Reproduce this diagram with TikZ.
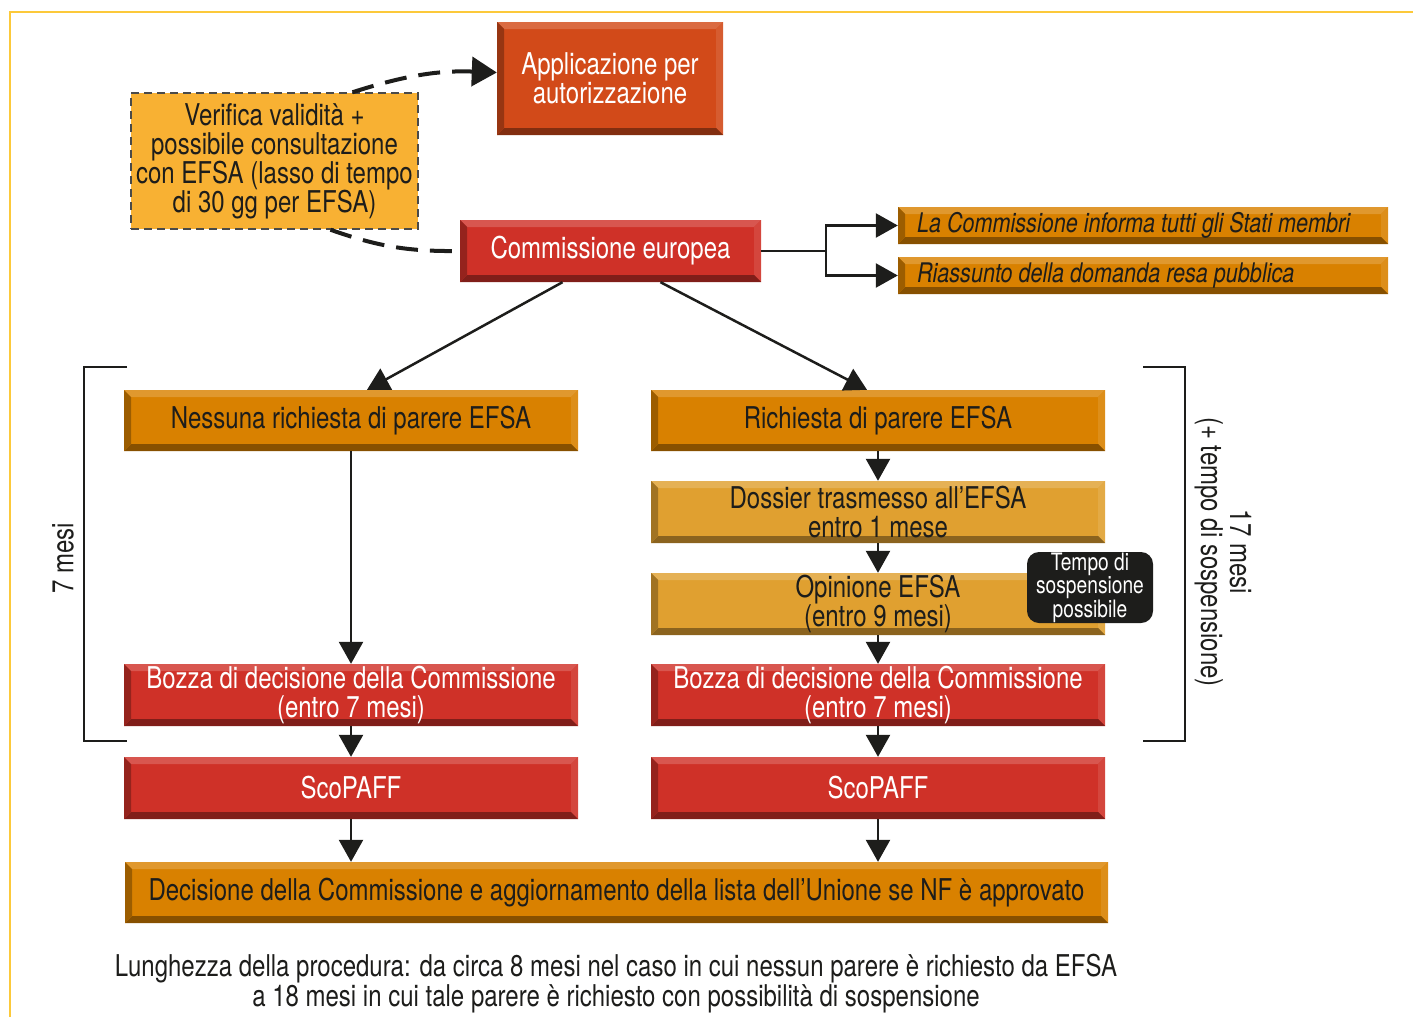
\documentclass[tikz,border=0pt]{standalone}
\usepackage{fontspec}
\setmainfont{TeX Gyre Heros}[FakeStretch=0.8]
\usetikzlibrary{arrows.meta}

\definecolor{ink}{HTML}{1D1D1B}
\definecolor{applred}{HTML}{D24A19}
\definecolor{boxred}{HTML}{CF3128}
\definecolor{boxorange}{HTML}{D98100}
\definecolor{boxlight}{HTML}{E0A030}
\definecolor{verifyellow}{HTML}{F8B133}
\definecolor{frameyellow}{HTML}{FCC93A}

\newcommand{\boxfont}{\fontsize{30}{28.5}\selectfont}
\newcommand{\tallfont}{\fontsize{30}{29}\selectfont}
\newcommand{\sidefont}{\fontsize{27}{28}\itshape\selectfont}
\newcommand{\tempofont}{\fontsize{24}{21.5}\selectfont}
\newcommand{\capfont}{\fontsize{30}{30}\selectfont}

% bevelled frame drawn inside a filled node
\newcommand{\bevel}[1]{%
  \coordinate (bsw) at (path picture bounding box.south west);
  \coordinate (bse) at (path picture bounding box.south east);
  \coordinate (bnw) at (path picture bounding box.north west);
  \coordinate (bne) at (path picture bounding box.north east);
  \fill[#1!82!white] (bnw) -- (bne) -- ([shift={(-7pt,-7pt)}]bne) -- ([shift={(7pt,-7pt)}]bnw) -- cycle;
  \fill[#1!90!white] (bne) -- (bse) -- ([shift={(-7pt,7pt)}]bse) -- ([shift={(-7pt,-7pt)}]bne) -- cycle;
  \fill[#1!62!black] (bse) -- (bsw) -- ([shift={(7pt,7pt)}]bsw) -- ([shift={(-7pt,7pt)}]bse) -- cycle;
  \fill[#1!72!black] (bsw) -- (bnw) -- ([shift={(7pt,-7pt)}]bnw) -- ([shift={(7pt,7pt)}]bsw) -- cycle;
}

\tikzset{
  bevelbox/.style={fill=#1, inner sep=0pt, align=center, path picture={\bevel{#1}}},
  redbox/.style={bevelbox=boxred, text=white, font=\boxfont, minimum width=454pt, minimum height=62pt},
  orangebox/.style={bevelbox=boxorange, text=ink, font=\boxfont, minimum width=454pt, minimum height=61pt},
  lightbox/.style={bevelbox=boxlight, text=ink, font=\boxfont, minimum width=454pt, minimum height=62pt},
  sidebox/.style={bevelbox=boxorange, text=ink, font=\sidefont, text width=452pt, align=flush left, inner xsep=19pt, minimum height=37pt},
  arr/.style={draw=ink, line width=2.5pt, -{Triangle[length=22pt,width=24pt]}},
  dashline/.style={draw=ink, line width=4pt, dash pattern=on 22pt off 12pt},
  bracket/.style={draw=ink, line width=2pt},
}

\begin{document}
\begin{tikzpicture}[x=1pt,y=-1pt]
\useasboundingbox (0,0) rectangle (1413,1017);
\draw[frameyellow, line width=2pt] (10,1017) -- (10,12) -- (1413,12);

% top part
\node[bevelbox=applred, text=white, font=\tallfont, minimum width=226pt, minimum height=113pt] (appl) at (610,78.5) {Applicazione per\\autorizzazione};
\node[fill=verifyellow, draw=ink!80, line width=1.5pt, dash pattern=on 8pt off 5pt, text=ink, font=\tallfont, align=center, inner sep=0pt, minimum width=287pt, minimum height=136pt] (verif) at (274.5,161) {Verifica validità +\\possibile consultazione\\con EFSA (lasso di tempo\\di 30 gg per EFSA)};
\node[redbox, minimum width=301pt] (comm) at (610.5,251) {Commissione europea};
\node[sidebox] (inform) at (1143,225.5) {La Commissione informa tutti gli Stati membri};
\node[sidebox] (summary) at (1143,275.5) {Riassunto della domanda resa pubblica};

\draw[dashline, -{Triangle[length=25pt,width=29pt]}] ([xshift=78]verif.north) to[bend left=10] ([yshift=6]appl.west);
\draw[dashline] ([xshift=56]verif.south) to[bend right=10] (comm.west);

\coordinate (fork) at ([xshift=65]comm.east);
\draw[draw=ink, line width=2.5pt] (comm.east) -- (fork);
\draw[arr] (fork) |- (inform.west);
\draw[arr] (fork) |- (summary.west);

% two branches
\node[orangebox] (noreq) at (351,420.5) {Nessuna richiesta di parere EFSA};
\node[orangebox] (req) at (878,420.5) {Richiesta di parere EFSA};
\node[lightbox] (dossier) at (878,512) {Dossier trasmesso all’EFSA\\entro 1 mese};
\node[lightbox] (opinion) at (878,604) {Opinione EFSA\\(entro 9 mesi)};
\node[fill=ink, text=white, rounded corners=12pt, font=\tempofont, align=center, inner sep=0pt, minimum width=126pt, minimum height=71pt] (susp) at (1090,587.5) {Tempo di\\sospensione\\possibile};
\node[redbox] (draftL) at (351,695) {Bozza di decisione della Commissione\\(entro 7 mesi)};
\node[redbox] (draftR) at (878,695) {Bozza di decisione della Commissione\\(entro 7 mesi)};
\node[redbox] (scoL) at (351,788) {ScoPAFF};
\node[redbox] (scoR) at (878,788) {ScoPAFF};
\node[orangebox, minimum width=983pt] (decision) at (616.5,892.5) {Decisione della Commissione e aggiornamento della lista dell’Unione se NF è approvato};

\draw[arr] ([xshift=-48]comm.south) -- ([xshift=16]noreq.north);
\draw[arr] ([xshift=50]comm.south) -- ([xshift=-11]req.north);
\draw[arr] (noreq.south) -- (draftL.north);
\draw[arr] (draftL.south) -- (scoL.north);
\draw[arr] (scoL.south) -- (scoL.south |- decision.north);
\draw[arr] (req.south) -- (dossier.north);
\draw[arr] (dossier.south) -- (opinion.north);
\draw[arr] (opinion.south) -- (draftR.north);
\draw[arr] (draftR.south) -- (scoR.north);
\draw[arr] (scoR.south) -- (scoR.south |- decision.north);

% time brackets
\draw[bracket] (127,367) -- (84,367) -- (84,741) -- (127,741);
\draw[bracket] (1143,367) -- (1185,367) -- (1185,741) -- (1143,741);
\node[rotate=90, text=ink, font=\boxfont] (sevenm) at (63,558) {7 mesi};
\node[rotate=-90, text=ink, font=\tallfont, align=center] (seventeenm) at (1223,552) {17 mesi\\(+ tempo di sospensione)};

\node[text=ink, font=\capfont, align=center] (caption) at (616,984) {Lunghezza della procedura: da circa 8 mesi nel caso in cui nessun parere è richiesto da EFSA\\a 18 mesi in cui tale parere è richiesto con possibilità di sospensione};
\end{tikzpicture}
\end{document}
